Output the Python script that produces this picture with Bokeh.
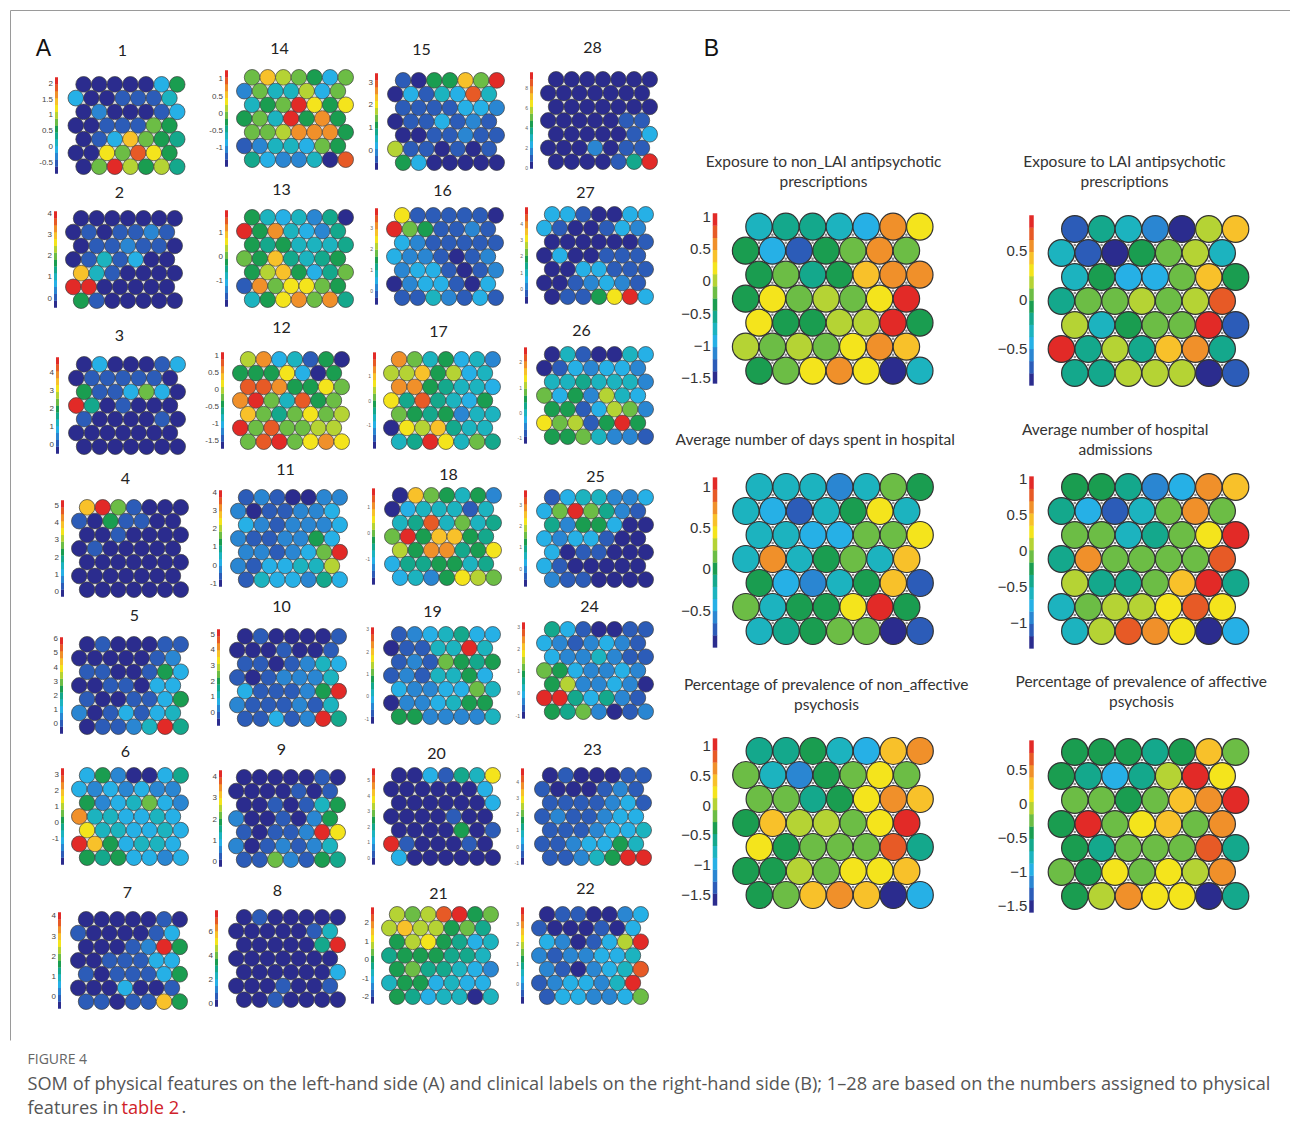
from bokeh.plotting import figure
from bokeh.models import Range1d, ColumnDataSource, LinearColorMapper
from bokeh.transform import transform
from bokeh.core.properties import value
from bokeh.embed import file_html
from bokeh.resources import INLINE

# ---------------- colour levels (0 = lowest, 13 = highest) ----------------
PALETTE = ["#2b2c8e", "#2c5cb8", "#2a86d2", "#26b0e6", "#1cb3bf", "#14a88c", "#1a9d50",
           "#6cbd45", "#b5d334", "#f4e41c", "#f8c12a", "#f0902a", "#e75a26", "#e22a27"]
N_LEV = len(PALETTE)

# ---------------- panel A : physical features (7 rows x 7 cells, level values) ----------------
som_1 = [[0,0,0,0,0,3,6],[3,0,0,1,1,1,4],[0,2,0,0,0,1,3],[0,0,1,1,1,7,6],[0,1,3,10,7,6,5],[0,0,9,7,12,9,6],[0,7,13,8,6,8,5]]
som_2 = [[0,0,0,0,0,0,0],[0,1,0,1,1,2,1],[0,1,1,2,1,1,0],[0,1,4,1,3,0,0],[10,4,1,0,0,0,0],[13,13,0,0,0,0,0],[6,1,0,0,0,0,0]]
som_3 = [[0,3,0,0,0,1,3],[0,1,1,1,1,1,0],[6,1,1,3,7,3,0],[13,5,0,1,0,0,0],[1,0,0,0,0,1,0],[0,0,0,0,0,0,0],[0,0,0,0,0,0,0]]
som_4 = [[10,13,7,1,0,0,0],[1,0,6,1,1,0,0],[0,0,1,0,0,0,0],[0,1,0,0,0,0,0],[0,0,0,0,0,0,0],[0,0,0,0,0,0,0],[0,0,0,0,0,0,0]]
som_5 = [[0,1,0,0,0,1,1],[0,0,0,0,0,1,2],[1,1,0,0,1,6,3],[0,0,1,1,0,3,3],[1,0,0,1,1,3,6],[2,0,1,3,1,3,4],[0,1,1,2,4,13,5]]
som_6 = [[3,6,2,0,0,3,5],[3,2,3,2,3,2,2],[6,2,3,4,7,3,2],[11,4,4,3,3,4,3],[9,4,4,3,3,4,3],[13,10,6,3,4,4,3],[6,5,6,3,3,2,3]]
som_7 = [[0,0,0,0,0,1,0],[1,0,0,0,0,1,3],[0,0,0,1,2,13,6],[0,0,1,1,1,3,3],[1,0,1,1,1,3,6],[0,0,0,3,0,0,1],[1,1,0,1,1,10,6]]
som_8 = [[0,1,0,0,0,0,0],[0,0,0,0,0,1,4],[0,0,0,0,0,5,13],[0,0,0,0,0,0,0],[0,0,0,0,0,0,3],[0,0,0,1,0,0,1],[0,0,1,0,0,0,0]]
som_9 = [[0,0,0,0,0,1,0],[0,0,0,0,1,0,1],[0,0,1,0,1,4,6],[2,0,0,1,0,2,6],[1,0,1,1,2,13,9],[2,0,1,2,1,2,4],[1,1,7,2,1,6,5]]
som_10 = [[0,1,0,0,0,0,1],[0,0,0,1,0,0,1],[1,1,0,1,2,4,3],[1,0,1,2,2,2,4],[3,1,1,1,2,6,13],[2,1,1,1,2,1,4],[1,1,3,1,2,13,5]]
som_11 = [[1,2,1,0,0,2,2],[2,0,1,1,2,2,3],[3,2,1,2,2,2,3],[2,1,1,2,2,6,3],[2,2,1,2,3,7,13],[2,1,3,3,4,4,8],[1,4,3,3,2,5,3]]
som_12 = [[8,11,3,4,1,6,0],[6,6,6,9,3,0,6],[12,12,11,6,6,9,7],[11,13,7,4,12,6,7],[10,7,5,7,9,7,8],[13,7,12,7,7,8,8],[7,12,13,7,9,11,9]]
som_13 = [[6,4,3,4,2,5,0],[13,6,11,4,3,2,5],[6,5,6,4,4,4,5],[7,6,10,5,4,5,6],[6,8,10,6,3,5,7],[1,11,7,9,9,7,6],[4,6,9,11,7,11,5]]
som_14 = [[7,10,8,7,6,3,7],[2,7,4,4,8,3,7],[4,6,7,13,9,6,9],[6,7,4,13,6,11,6],[7,7,8,11,11,11,6],[1,2,4,4,3,7,6],[5,3,2,2,4,0,12]]
som_15 = [[1,0,6,6,10,7,13],[0,3,1,4,3,12,4],[1,1,1,1,3,3,2],[0,1,1,3,1,2,1],[0,0,1,1,2,1,1],[8,1,1,0,1,0,1],[6,3,0,0,0,0,0]]
som_16 = [[9,1,1,1,1,1,0],[13,7,6,1,1,2,1],[3,2,1,1,1,1,1],[3,2,2,1,0,1,2],[2,3,3,1,0,1,2],[0,2,3,3,1,0,3],[1,1,4,2,1,3,1]]
som_17 = [[11,7,4,6,3,4,2],[8,8,10,6,8,3,4],[11,11,6,5,4,4,3],[9,5,12,5,4,3,6],[7,6,5,6,2,4,4],[0,9,8,10,5,4,4],[4,5,13,9,4,7,5]]
som_18 = [[0,10,7,6,4,6,2],[0,3,4,4,4,1,4],[4,5,12,4,7,4,5],[7,13,6,10,10,6,5],[8,6,11,11,5,6,9],[3,5,5,6,6,4,5],[3,4,2,6,9,8,7]]
som_19 = [[1,2,3,4,5,3,3],[0,1,1,4,4,13,4],[1,2,1,7,6,5,6],[1,2,1,4,4,6,3],[3,2,2,3,3,7,4],[0,2,2,3,4,6,6],[6,6,2,2,2,2,4]]
som_20 = [[0,0,3,1,5,4,9],[0,0,0,0,0,0,3],[0,0,0,0,0,0,3],[0,0,0,0,1,0,0],[0,0,0,0,6,0,1],[13,1,0,0,0,1,0],[3,0,0,0,0,0,0]]
som_21 = [[8,7,8,12,13,6,7],[8,10,8,8,6,7,5],[6,8,9,6,5,3,4],[5,6,6,6,5,5,4],[6,7,5,5,4,3,2],[4,6,6,3,4,3,3],[6,5,3,4,4,0,4]]
som_22 = [[0,1,1,0,0,2,3],[1,0,0,0,1,0,3],[3,2,0,1,3,8,13],[2,1,2,2,3,3,4],[2,1,0,2,3,4,12],[1,2,3,3,2,4,13],[1,3,3,2,2,3,7]]
som_23 = [[0,1,0,0,0,1,1],[1,0,0,0,1,2,1],[1,1,1,1,2,3,1],[1,2,1,1,2,3,3],[1,1,1,2,3,3,4],[1,1,2,3,3,6,4],[1,1,2,4,6,13,13]]
som_24 = [[5,3,1,0,0,1,1],[3,2,1,2,3,2,1],[3,2,2,4,2,1,1],[7,6,3,2,2,3,2],[6,8,2,2,3,2,0],[13,13,5,3,5,2,1],[6,5,7,2,0,1,2]]
som_25 = [[1,3,4,4,2,2,3],[3,7,13,7,5,2,1],[5,2,6,6,3,0,0],[3,2,3,3,1,0,0],[3,0,1,1,0,0,0],[3,1,0,0,0,0,0],[2,1,1,0,0,0,0]]
som_26 = [[0,4,1,0,0,4,3],[0,1,3,2,3,3,2],[4,4,5,4,4,4,2],[7,3,6,2,8,4,3],[6,6,1,3,8,7,2],[9,7,8,1,6,13,6],[6,6,7,4,2,2,1]]
som_27 = [[3,3,1,0,0,3,3],[3,1,0,0,1,3,2],[0,0,0,0,0,0,1],[0,3,0,0,1,1,1],[0,0,3,3,1,1,1],[0,0,1,2,3,2,1],[0,1,1,6,9,13,3]]
som_28 = [[0,0,0,0,0,0,0],[0,0,0,0,0,0,0],[0,0,0,0,0,0,0],[0,0,0,0,0,1,1],[0,0,0,0,0,1,3],[0,0,0,2,0,1,1],[0,0,0,0,1,5,13]]

# colour-bar scale of each physical-feature map: (low, high, tick values)
scale_1 = (-0.85, 2.18, [2, 1.5, 1, 0.5, 0, -0.5])
scale_2 = (-0.45, 4.1, [4, 3, 2, 1, 0])
scale_3 = (-0.5, 4.85, [4, 3, 2, 1, 0])
scale_4 = (-0.3, 5.3, [5, 4, 3, 2, 1, 0])
scale_5 = (-0.72, 6.1, [6, 5, 4, 3, 2, 1, 0])
scale_6 = (-2.6, 3.37, [3, 2, 1, 0, -1])
scale_7 = (-0.57, 4.17, [4, 3, 2, 1, 0])
scale_8 = (-0.28, 7.8, [6, 4, 2, 0])
scale_9 = (-0.24, 4.3, [4, 3, 2, 1, 0])
scale_10 = (-0.84, 5.3, [5, 4, 3, 2, 1, 0])
scale_11 = (-1.18, 4.09, [4, 3, 2, 1, 0, -1])
scale_12 = (-1.75, 1.1, [1, 0.5, 0, -0.5, -1, -1.5])
scale_13 = (-2.1, 1.91, [1, 0, -1])
scale_14 = (-1.54, 1.24, [1, 0.5, 0, -0.5, -1])
scale_15 = (-0.83, 3.38, [3, 2, 1, 0])
scale_16 = (-0.65, 3.94, [3, 2, 1, 0])
scale_17 = (-1.94, 1.94, [1, 0, -1])
scale_18 = (-1.97, 1.73, [1, 0, -1])
scale_19 = (-1.22, 3.08, [3, 2, 1, 0, -1])
scale_20 = (-0.42, 5.75, [5, 4, 3, 2, 1, 0])
scale_21 = (-2.35, 2.8, [2, 1, 0, -1, -2])
scale_22 = (-1.0, 3.86, [3, 2, 1, 0])
scale_23 = (-1.1, 4.8, [4, 3, 2, 1, 0, -1])
scale_24 = (-1.13, 3.2, [3, 2, 1, 0, -1])
scale_25 = (-0.85, 3.69, [3, 2, 1, 0])
scale_26 = (-1.2, 2.58, [2, 1, 0, -1])
scale_27 = (-0.9, 5.0, [4, 3, 2, 1, 0])
scale_28 = (-0.1, 9.6, [8, 6, 4, 2, 0])

# ---------------- panel B : clinical labels ----------------
clin_non_lai = [[4,5,5,4,3,11,9],[6,3,1,6,7,11,7],[6,7,5,6,10,11,11],[6,9,7,8,7,9,13],[9,6,6,8,8,13,6],[8,7,8,7,9,11,10],[6,7,9,11,9,0,4]]
clin_lai = [[1,5,4,2,0,8,10],[4,1,0,6,7,8,4],[4,6,3,3,7,10,6],[5,7,7,8,7,8,12],[8,4,6,7,7,13,1],[13,5,8,5,10,11,5],[5,5,8,8,8,0,1]]
clin_days = [[4,4,4,2,4,7,6],[4,3,1,4,6,9,4],[4,4,3,3,7,7,9],[4,11,4,6,7,4,10],[6,3,2,4,6,10,1],[7,4,6,6,9,13,6],[4,5,6,7,7,0,1]]
clin_adm = [[6,6,5,2,3,11,10],[5,3,1,4,7,11,7],[7,7,4,5,7,9,13],[5,11,7,7,7,7,12],[8,5,5,7,10,13,5],[4,7,8,8,9,12,9],[4,8,12,11,9,0,3]]
clin_nonaff = [[5,5,6,4,3,10,11],[7,4,2,6,7,9,7],[7,7,5,6,9,11,10],[6,10,8,8,7,9,13],[9,6,7,7,7,12,5],[6,6,8,7,9,9,10],[6,7,10,11,10,0,3]]
clin_aff = [[6,6,6,5,6,10,7],[6,5,3,5,8,13,9],[7,7,6,7,10,11,13],[6,13,7,9,10,7,11],[6,5,7,7,7,12,5],[7,6,9,7,9,8,11],[6,8,11,9,9,0,5]]

clin_titles = {
    "non_lai": ["Exposure to non_LAI antipsychotic", "prescriptions"],
    "lai": ["Exposure to LAI antipsychotic", "prescriptions"],
    "days": ["Average number of days spent in hospital"],
    "adm": ["Average number of hospital", "admissions"],
    "nonaff": ["Percentage of prevalence of non_affective", "psychosis"],
    "aff": ["Percentage of prevalence of affective", "psychosis"],
}
clin_scale = {
    "non_lai": (-1.58, 1.05, [1, 0.5, 0, -0.5, -1, -1.5]),
    "lai": (-0.88, 0.87, [0.5, 0, -0.5]),
    "days": (-0.95, 1.12, [1, 0.5, 0, -0.5]),
    "adm": (-1.36, 1.03, [1, 0.5, 0, -0.5, -1]),
    "nonaff": (-1.67, 1.12, [1, 0.5, 0, -0.5, -1, -1.5]),
    "aff": (-1.59, 0.94, [0.5, 0, -0.5, -1, -1.5]),
}
clin_values = {"non_lai": clin_non_lai, "lai": clin_lai, "days": clin_days,
               "adm": clin_adm, "nonaff": clin_nonaff, "aff": clin_aff}

som_values = {1: som_1, 2: som_2, 3: som_3, 4: som_4, 5: som_5, 6: som_6, 7: som_7,
              8: som_8, 9: som_9, 10: som_10, 11: som_11, 12: som_12, 13: som_13, 14: som_14,
              15: som_15, 16: som_16, 17: som_17, 18: som_18, 19: som_19, 20: som_20, 21: som_21,
              22: som_22, 23: som_23, 24: som_24, 25: som_25, 26: som_26, 27: som_27, 28: som_28}
som_scale = {1: scale_1, 2: scale_2, 3: scale_3, 4: scale_4, 5: scale_5, 6: scale_6, 7: scale_7,
             8: scale_8, 9: scale_9, 10: scale_10, 11: scale_11, 12: scale_12, 13: scale_13,
             14: scale_14, 15: scale_15, 16: scale_16, 17: scale_17, 18: scale_18, 19: scale_19,
             20: scale_20, 21: scale_21, 22: scale_22, 23: scale_23, 24: scale_24, 25: scale_25,
             26: scale_26, 27: scale_27, 28: scale_28}
tiny_labels = {16, 17, 18, 19, 20, 22, 23, 24, 25, 26, 27, 28}

# ---------------- layout (page pixels) ----------------
# small map: grid_left, grid_top, colourbar_x, title_x, title_y
SMALL_POS = {
    1: (67.5, 76, 56, 122, 50), 14: (236, 69, 226, 279, 48), 15: (387, 72, 376, 421, 49), 28: (540, 71, 531, 592, 47),
    2: (65, 210, 55, 119, 192), 13: (236, 209, 226, 281, 189), 16: (386, 207, 376, 442, 190), 27: (536, 206, 526, 585, 192),
    3: (68, 356, 57, 119, 335), 12: (232, 351, 222, 281, 327), 17: (383, 351, 374, 438, 331), 26: (536, 346, 525, 581, 330),
    4: (71, 499, 62, 125, 478), 11: (230, 489, 220, 285, 469), 18: (384, 487, 373, 448, 474), 25: (536, 489, 525, 595, 476),
    5: (71, 636, 61, 134, 615), 10: (229, 628, 218, 281, 606), 19: (383, 626, 372, 432, 611), 24: (536, 621, 523, 589, 606),
    6: (71, 767, 62, 125, 751), 9: (228, 769, 220, 281, 749), 20: (383, 767, 373, 436, 753), 23: (534, 767, 522, 592, 749),
    7: (70, 911, 59, 127, 892), 8: (228, 909, 216, 277, 890), 21: (381, 906, 372, 438, 893), 22: (531, 906, 522, 585, 888),
}
S_PITCH, S_EW, S_EH, S_ROW = 15.6, 15.6, 15.8, 13.7
# big map: grid_left, grid_top, cb_x, cb_top, cb_bottom, title_x, title_y(first line)
BIG_POS = {
    "non_lai": (731.7, 212.7, 714.5, 213, 383, 823, 160),
    "lai": (1047.5, 215, 1031, 215, 385, 1124, 160),
    "days": (732, 473, 714.5, 477, 647, 815, 438),
    "adm": (1047.5, 473, 1031, 476, 648, 1115, 428),
    "nonaff": (732, 737, 714.5, 738, 905, 826, 683),
    "aff": (1047.5, 738, 1031, 740, 912, 1141, 680),
}
B_PITCH, B_EW, B_EH, B_ROW = 26.8, 26.4, 27.0, 24.0

W, H = 1290, 1122
p = figure(width=W, height=H, x_range=Range1d(0, W), y_range=Range1d(H, 0),
           output_backend="svg", toolbar_location=None, min_border=0,
           x_axis_location=None, y_axis_location=None)
p.grid.visible = False
p.outline_line_color = None
p.background_fill_color = "white"
p.border_fill_color = "white"

mapper = LinearColorMapper(palette=PALETTE, low=-0.5, high=N_LEV - 0.5)


def cells(vals, left, top, pitch, eh, rowp):
    xs, ys, lv, rows = [], [], [], []
    for r, row in enumerate(vals):
        shift = pitch / 2 if r % 2 == 0 else 0.0
        rx = []
        for c, v in enumerate(row):
            x = left + pitch / 2 + shift + c * pitch
            y = top + eh / 2 + r * rowp
            xs.append(x); ys.append(y); lv.append(v)
            rx.append((x, y))
        rows.append(rx)
    # gap dots: centroids of triangles between neighbouring rows
    dx, dy = [], []
    for r in range(len(rows) - 1):
        merged = sorted(rows[r] + rows[r + 1])
        for i in range(len(merged) - 2):
            a, b, c = merged[i], merged[i + 1], merged[i + 2]
            dx.append((a[0] + b[0] + c[0]) / 3)
            dy.append((a[1] + b[1] + c[1]) / 3)
    return xs, ys, lv, dx, dy


def colorbar(cb_x, top, bottom, bw, lo, hi, ticks, minus, sink):
    seg = (bottom - top) / N_LEV
    for k in range(N_LEV):
        sink["x"].append(cb_x)
        sink["y"].append(bottom - (k + 0.5) * seg)
        sink["w"].append(bw)
        sink["h"].append(seg + 0.3)
        sink["lev"].append(k)
    lx, ly, lt = [], [], []
    for t in ticks:
        y = top + (hi - t) / (hi - lo) * (bottom - top)
        s = f"{t:g}"
        if minus:
            s = s.replace("-", "\u2212")
        lx.append(cb_x - bw / 2 - 2); ly.append(y); lt.append(s)
    return lx, ly, lt


small = dict(x=[], y=[], lev=[])
big = dict(x=[], y=[], lev=[])
sdots = dict(x=[], y=[])
bdots = dict(x=[], y=[])
cbar = dict(x=[], y=[], w=[], h=[], lev=[])
s_lab = dict(x=[], y=[], t=[])
s_tiny = dict(x=[], y=[], t=[])
b_lab = dict(x=[], y=[], t=[])
titles_s = dict(x=[], y=[], t=[])
titles_b = dict(x=[], y=[], t=[])

for num, vals in som_values.items():
    gl, gt, cbx, tx, ty = SMALL_POS[num]
    xs, ys, lv, dx, dy = cells(vals, gl, gt, S_PITCH, S_EH, S_ROW)
    small["x"] += xs; small["y"] += ys; small["lev"] += lv
    sdots["x"] += dx; sdots["y"] += dy
    lo, hi, ticks = som_scale[num]
    gh = S_EH + 6 * S_ROW
    lx, ly, lt = colorbar(cbx, gt + 1, gt + gh - 1, 3, lo, hi, ticks, False, cbar)
    sink = s_tiny if num in tiny_labels else s_lab
    sink["x"] += lx; sink["y"] += ly; sink["t"] += lt
    titles_s["x"].append(tx); titles_s["y"].append(ty); titles_s["t"].append(str(num))

for key, vals in clin_values.items():
    gl, gt, cbx, ct, cb_b, tx, ty = BIG_POS[key]
    xs, ys, lv, dx, dy = cells(vals, gl, gt, B_PITCH, B_EH, B_ROW)
    big["x"] += xs; big["y"] += ys; big["lev"] += lv
    bdots["x"] += dx; bdots["y"] += dy
    lo, hi, ticks = clin_scale[key]
    lx, ly, lt = colorbar(cbx, ct, cb_b, 4.5, lo, hi, ticks, True, cbar)
    b_lab["x"] += lx; b_lab["y"] += ly; b_lab["t"] += lt
    for i, line in enumerate(clin_titles[key]):
        titles_b["x"].append(tx); titles_b["y"].append(ty + 20.5 * i); titles_b["t"].append(line)

# frame lines of the figure box
p.line([10, W], [10, 10], line_color="#9a9a9a", line_width=1)
p.line([10, 10], [10, 1040], line_color="#9a9a9a", line_width=1)

p.ellipse("x", "y", width=S_EW, height=S_EH, source=ColumnDataSource(small),
          fill_color=transform("lev", mapper), line_color="#3c3c3c", line_width=0.7)
p.scatter("x", "y", source=ColumnDataSource(sdots), size=2.2, marker="circle",
          fill_color="#d8d8d8", line_color=None)
p.ellipse("x", "y", width=B_EW, height=B_EH, source=ColumnDataSource(big),
          fill_color=transform("lev", mapper), line_color="#333333", line_width=1.2)
p.scatter("x", "y", source=ColumnDataSource(bdots), size=2.6, marker="circle",
          fill_color="#8a8a8a", line_color=None)
p.rect("x", "y", width="w", height="h", source=ColumnDataSource(cbar),
       fill_color=transform("lev", mapper), line_color=None)

p.text("x", "y", text="t", source=ColumnDataSource(s_lab), text_align="right",
       text_baseline="middle", text_font=value("Liberation Sans"), text_font_size="8px",
       text_color="#444444")
p.text("x", "y", text="t", source=ColumnDataSource(s_tiny), text_align="right",
       text_baseline="middle", text_font=value("Liberation Sans"), text_font_size="5px",
       text_color="#666666")
p.text("x", "y", text="t", source=ColumnDataSource(b_lab), text_align="right",
       text_baseline="middle", text_font=value("Liberation Sans"), text_font_size="15px",
       text_color="#333333")
p.text("x", "y", text="t", source=ColumnDataSource(titles_s), text_align="center",
       text_baseline="middle", text_font=value("Lato"), text_font_size="16px",
       text_color="#222222")
p.text("x", "y", text="t", source=ColumnDataSource(titles_b), text_align="center",
       text_baseline="middle", text_font=value("Lato"), text_font_size="15.5px",
       text_color="#333333")

# panel letters
p.text(x=[43, 711], y=[47, 47], text=["A", "B"], text_align="center", text_baseline="middle",
       text_font=value("Liberation Sans"), text_font_size="23px", text_color="#111111")

# caption
p.text(x=[27], y=[1058], text=["FIGURE 4"], text_align="left", text_baseline="middle",
       text_font=value("Open Sans"), text_font_size="14px", text_color="#666666")
p.text(x=[27], y=[1082],
       text=["SOM of physical features on the left-hand side (A) and clinical labels on the right-hand side (B); 1\u201328 are based on the numbers assigned to physical"],
       text_align="left", text_baseline="middle", text_font=value("Open Sans"),
       text_font_size="18.2px", text_color="#555555")
p.text(x=[27], y=[1106], text=["features in"], text_align="left", text_baseline="middle",
       text_font=value("Open Sans"), text_font_size="18.2px", text_color="#555555")
p.text(x=[121], y=[1106], text=["table 2"], text_align="left", text_baseline="middle",
       text_font=value("Open Sans"), text_font_size="18.2px", text_color="#d0222a")
p.text(x=[181], y=[1106], text=["."], text_align="left", text_baseline="middle",
       text_font=value("Open Sans"), text_font_size="18.2px", text_color="#555555")

open("out.html", "w").write(file_html(p, INLINE))
